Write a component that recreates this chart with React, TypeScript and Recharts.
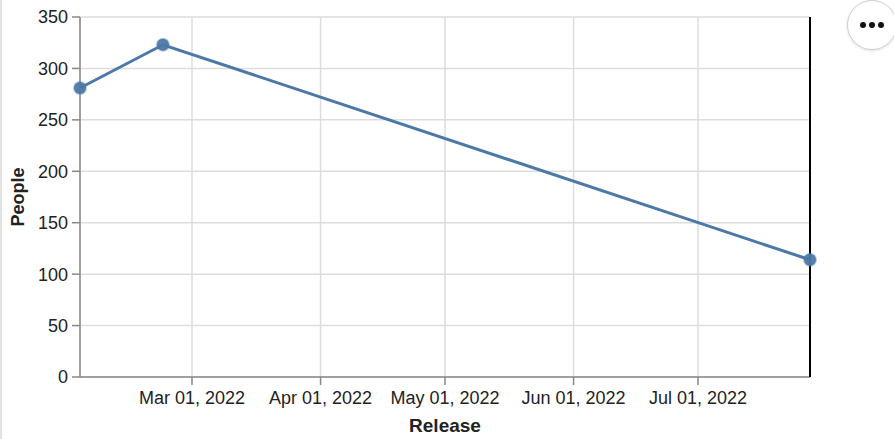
import React from 'react'
import {
  LineChart,
  Line,
  XAxis,
  YAxis,
  CartesianGrid,
} from 'recharts'

// release dates and people counts
const releaseDates = ['2022-02-02', '2022-02-22', '2022-07-28']
const people = [281, 323, 114]

const monthTicks = ['2022-03-01', '2022-04-01', '2022-05-01', '2022-06-01', '2022-07-01']
const peopleTicks = [0, 50, 100, 150, 200, 250, 300, 350]

const MONTHS = ['Jan', 'Feb', 'Mar', 'Apr', 'May', 'Jun', 'Jul', 'Aug', 'Sep', 'Oct', 'Nov', 'Dec']

const toTime = (s: string) => {
  const [y, m, d] = s.split('-').map(Number)
  return Date.UTC(y, m - 1, d)
}

const fmtDate = (t: number) => {
  const d = new Date(t)
  const day = String(d.getUTCDate()).padStart(2, '0')
  return `${MONTHS[d.getUTCMonth()]} ${day}, ${d.getUTCFullYear()}`
}

const chartData = releaseDates.map((date, i) => ({
  release: toTime(date),
  people: people[i],
}))

const FONT = '"Liberation Sans", Arial, Helvetica, sans-serif'
const BLUE = '#4c78a8'

export default function App() {
  return (
    <div
      style={{
        position: 'fixed',
        top: 0,
        left: 0,
        width: 894,
        height: 439,
        background: '#fff',
        fontFamily: FONT,
      }}
    >
      <div
        style={{
          position: 'absolute',
          left: 0,
          top: 0,
          width: 2,
          height: 439,
          background: '#e2e2e2',
        }}
      />
      <LineChart
        width={894}
        height={439}
        data={chartData}
        margin={{ top: 17, right: 82, bottom: 0, left: 0 }}
      >
        <CartesianGrid stroke="#dddddd" strokeWidth={1.5} />
        <XAxis
          dataKey="release"
          type="number"
          scale="time"
          domain={[toTime(releaseDates[0]), toTime(releaseDates[releaseDates.length - 1])]}
          ticks={monthTicks.map(toTime)}
          tickFormatter={fmtDate}
          height={62}
          tickSize={8}
          tickMargin={6}
          stroke="#888"
          strokeWidth={1.5}
          tick={{ fill: '#222', fontSize: 18, fontFamily: FONT }}
          label={{
            value: 'Release',
            position: 'insideBottom',
            offset: 7,
            style: { fontWeight: 'bold', fontSize: 19, fill: '#222', fontFamily: FONT },
          }}
        />
        <YAxis
          type="number"
          domain={[0, 350]}
          ticks={peopleTicks}
          width={80}
          tickSize={8}
          tickMargin={4}
          stroke="#888"
          strokeWidth={1.5}
          tick={{ fill: '#222', fontSize: 18, fontFamily: FONT }}
          label={{
            value: 'People',
            angle: -90,
            position: 'insideLeft',
            offset: 18,
            style: { textAnchor: 'middle', fontWeight: 'bold', fontSize: 18, fill: '#222', fontFamily: FONT },
          }}
        />
        <YAxis
          yAxisId="right"
          orientation="right"
          domain={[0, 350]}
          width={2}
          tick={false}
          tickLine={false}
          axisLine={{ stroke: '#000', strokeWidth: 2 }}
        />
        <Line
          dataKey="people"
          type="linear"
          stroke={BLUE}
          strokeWidth={3}
          dot={{ r: 6, fill: BLUE, stroke: BLUE, strokeOpacity: 0.4, strokeWidth: 2, fillOpacity: 0.95 }}
          activeDot={false}
          isAnimationActive={false}
        />
      </LineChart>
      <div
        style={{
          position: 'absolute',
          left: 847,
          top: 0,
          width: 48,
          height: 48,
          borderRadius: '50%',
          border: '1px solid #d0d0d0',
          boxShadow: '0 1px 3px rgba(0,0,0,0.12)',
          background: '#fff',
          display: 'flex',
          alignItems: 'center',
          justifyContent: 'center',
          gap: 3,
        }}
      >
        {[0, 1, 2].map((i) => (
          <span
            key={i}
            style={{ width: 6, height: 6, borderRadius: '50%', background: '#111', display: 'block' }}
          />
        ))}
      </div>
    </div>
  )
}
